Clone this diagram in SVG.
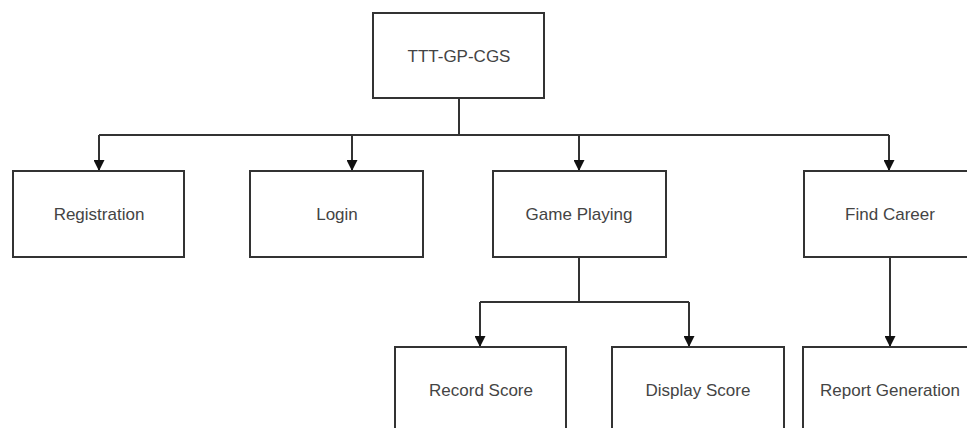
<svg xmlns="http://www.w3.org/2000/svg" width="967" height="428" viewBox="0 0 967 428">
<defs>
<marker id="ah" viewBox="0 0 10 10" refX="10" refY="5" markerWidth="11" markerHeight="11" markerUnits="userSpaceOnUse" orient="auto">
<path d="M0,0 L10,5 L0,10 Z" fill="#111"/>
</marker>
<style>
.box{fill:#fff;stroke:#333;stroke-width:2}
.lbl{font-family:"Liberation Sans",Arial,sans-serif;font-size:17px;fill:#444;text-anchor:middle;dominant-baseline:central}
.con{fill:none;stroke:#333;stroke-width:2}
</style>
</defs>
<rect width="967" height="428" fill="#fff"/>
<g id="connectors">
<path class="con" d="M459,98 V135"/>
<path class="con" d="M99,135 H889"/>
<path class="con" d="M99,135 V171" marker-end="url(#ah)"/>
<path class="con" d="M352,135 V171" marker-end="url(#ah)"/>
<path class="con" d="M579,135 V171" marker-end="url(#ah)"/>
<path class="con" d="M889,135 V171" marker-end="url(#ah)"/>
<path class="con" d="M579,257 V302"/>
<path class="con" d="M480,302 H689"/>
<path class="con" d="M480,302 V347" marker-end="url(#ah)"/>
<path class="con" d="M689,302 V347" marker-end="url(#ah)"/>
<path class="con" d="M890,257 V347" marker-end="url(#ah)"/>
</g>
<g id="root"><rect class="box" x="373" y="13" width="171" height="85"/><text class="lbl" x="459" y="56">TTT-GP-CGS</text></g>
<g id="registration"><rect class="box" x="13" y="171" width="171" height="86"/><text class="lbl" x="99" y="214">Registration</text></g>
<g id="login"><rect class="box" x="250" y="171" width="173" height="86"/><text class="lbl" x="337" y="214">Login</text></g>
<g id="game-playing"><rect class="box" x="493" y="171" width="173" height="86"/><text class="lbl" x="579" y="214">Game Playing</text></g>
<g id="find-career"><rect class="box" x="804" y="171" width="173" height="86"/><text class="lbl" x="890" y="214">Find Career</text></g>
<g id="record-score"><rect class="box" x="395" y="347" width="171" height="86"/><text class="lbl" x="481" y="390">Record Score</text></g>
<g id="display-score"><rect class="box" x="612" y="347" width="172" height="86"/><text class="lbl" x="698" y="390">Display Score</text></g>
<g id="report-generation"><rect class="box" x="803" y="347" width="174" height="86"/><text class="lbl" x="890" y="390">Report Generation</text></g>
</svg>
